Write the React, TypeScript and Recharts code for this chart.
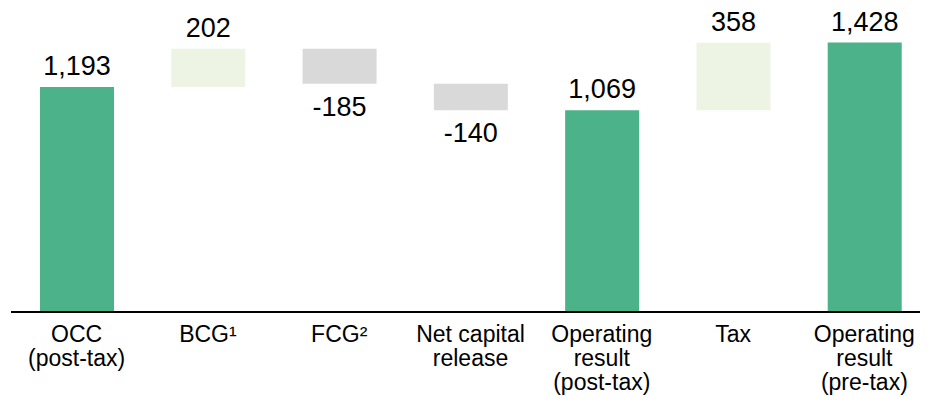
import { BarChart, Bar, XAxis, YAxis, Cell, LabelList } from "recharts";

const CATEGORIES = [
  ["OCC", "(post-tax)"],
  ["BCG¹"],
  ["FCG²"],
  ["Net capital", "release"],
  ["Operating", "result", "(post-tax)"],
  ["Tax"],
  ["Operating", "result", "(pre-tax)"],
];
const VALUES = [1193, 202, -185, -140, 1069, 358, 1428];
const KINDS = ["total", "delta", "delta", "delta", "total", "delta", "total"];

const COLORS: Record<string, string> = {
  total: "#4bb289",
  up: "#edf4e3",
  down: "#d9d9d9",
};

const FONT = "'Liberation Sans', Arial, sans-serif";

// running totals -> floating ranges
let running = 0;
const data = VALUES.map((v, i) => {
  let range: [number, number];
  let color: string;
  if (KINDS[i] === "total") {
    range = [0, v];
    running = v;
    color = COLORS.total;
  } else {
    const next = running + v;
    range = [Math.min(running, next), Math.max(running, next)];
    running = next;
    color = v >= 0 ? COLORS.up : COLORS.down;
  }
  return { name: String(i), range, value: v, color };
});

function CategoryTick(props: any) {
  const { x, y, payload } = props;
  const lines = CATEGORIES[Number(payload.value)] || [];
  return (
    <text x={x} y={y} textAnchor="middle" fill="#000" fontSize={23} fontFamily={FONT}>
      {lines.map((l, i) => (
        <tspan key={i} x={x} dy={i === 0 ? 30 : 24}>
          {l}
        </tspan>
      ))}
    </text>
  );
}

function ValueLabel(props: any) {
  const { x, y, width, height, index } = props;
  const v = VALUES[index];
  const top = Math.min(y, y + height);
  const bottom = Math.max(y, y + height);
  const ty = v >= 0 ? top - 12 : bottom + 32;
  return (
    <text x={x + width / 2} y={ty} textAnchor="middle" fill="#000" fontSize={27} fontFamily={FONT}>
      {v.toLocaleString("en-US")}
    </text>
  );
}

export default function App() {
  return (
    <div style={{ width: 920, height: 393, overflow: "hidden" }}>
      <BarChart
        width={935}
        height={390}
        data={data}
        margin={{ top: 21, right: 0, left: 3, bottom: 0 }}
      >
        <XAxis
          dataKey="name"
          interval={0}
          tickLine={false}
          tickSize={0}
          tickMargin={0}
          height={86}
          padding={{ left: 0, right: 13 }}
          axisLine={{ stroke: "#000", strokeWidth: 2 }}
          tick={<CategoryTick />}
        />
        <YAxis hide domain={[0, 1500]} />
        <Bar dataKey="range" barSize={74} isAnimationActive={false}>
          {data.map((d, i) => (
            <Cell key={i} fill={d.color} />
          ))}
          <LabelList dataKey="value" content={<ValueLabel />} />
        </Bar>
      </BarChart>
    </div>
  );
}
